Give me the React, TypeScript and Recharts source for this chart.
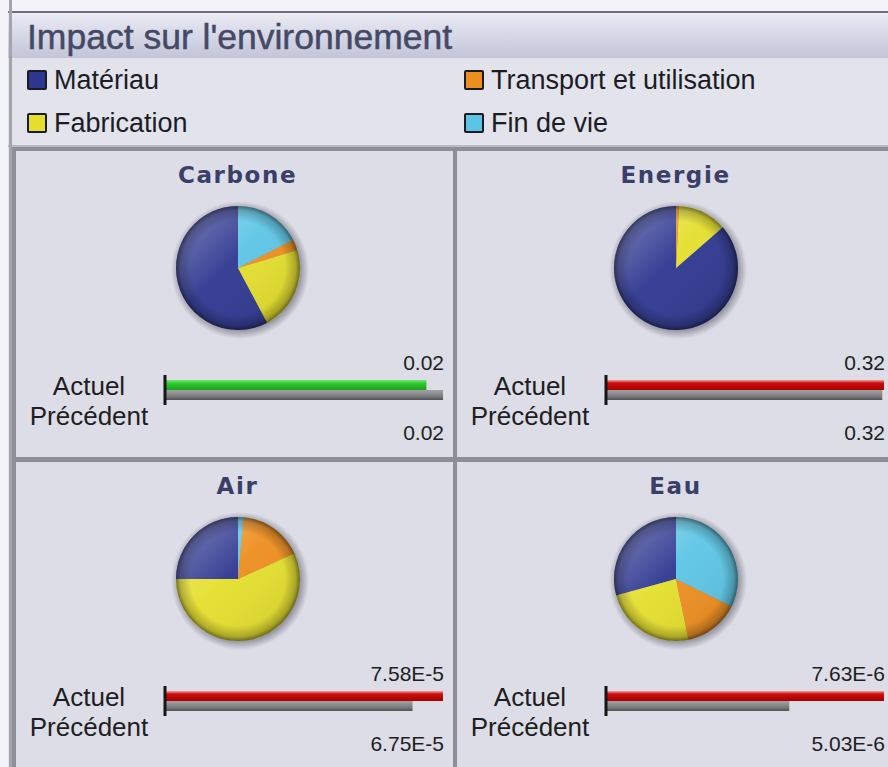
import React from 'react'
import { PieChart, Pie, Cell, BarChart, Bar, XAxis, YAxis, ReferenceLine } from 'recharts'

const categories = ['Matériau', 'Fabrication', 'Transport et utilisation', 'Fin de vie']
const colors = ['#2e3790', '#e4df2c', '#ee8e1e', '#5cc5e5']
const legendOrder = [0, 2, 1, 3]

const panelTitles = ['Carbone', 'Energie', 'Air', 'Eau']
const carboneShares = [57.8, 21.9, 2.8, 17.5]
const energieShares = [86.4, 12.8, 0.8, 0]
const airShares = [25, 56.8, 16.8, 1.4]
const eauShares = [29.3, 24, 14.5, 32.3]
const shares = [carboneShares, energieShares, airShares, eauShares]

const actuelValues = [0.0189, 0.322, 7.58e-5, 7.63e-6]
const precedentValues = [0.0201, 0.32, 6.75e-5, 5.03e-6]
const rowLabels = ['Actuel', 'Précédent']

const fmt = (v: number) =>
  v >= 0.01 ? v.toFixed(2) : v.toExponential(2).toUpperCase().replace('+', '')

const PANEL_W = [437, 431]
const PANEL_H = 306

function Panel({ i }: { i: number }) {
  const w = PANEL_W[i % 2]
  const slices = categories.map((name, k) => ({ name, value: shares[i][k] }))
  const total = slices.reduce((s, d) => s + d.value, 0)
  const cover = [{ name: 'cover', value: total }]
  const act = actuelValues[i]
  const prev = precedentValues[i]
  const max = Math.max(act, prev)
  const better = act <= prev
  const barRow = [{ name: panelTitles[i], actuel: act, precedent: prev }]
  const id = 'p' + i

  return (
    <div style={{ position: 'absolute', left: 0, top: 0, width: w, height: PANEL_H, background: '#dcdde6' }}>
      <div
        style={{
          position: 'absolute', left: 0, width: w, top: 10, textAlign: 'center',
          fontFamily: 'DejaVu Sans', fontWeight: 'bold', fontSize: 23, letterSpacing: 1.6,
          color: '#3a3e68', lineHeight: '28px', paddingLeft: 6, boxSizing: 'border-box',
        }}
      >
        {panelTitles[i]}
      </div>
      <div style={{ position: 'absolute', left: w / 2 + 3 - 80, top: 117 - 80 }}>
        <PieChart width={160} height={160} margin={{ top: 0, right: 0, bottom: 0, left: 0 }}>
          <defs>
            <radialGradient id={id + 'halo'} cx="50%" cy="50%" r="50%">
              <stop offset="0%" stopColor="#5e5e6c" stopOpacity={0.7} />
              <stop offset="86%" stopColor="#5e5e6c" stopOpacity={0.6} />
              <stop offset="100%" stopColor="#5e5e6c" stopOpacity={0} />
            </radialGradient>
            <radialGradient id={id + 'rim'} cx="50%" cy="50%" r="50%">
              <stop offset="0%" stopColor="#000" stopOpacity={0} />
              <stop offset="76%" stopColor="#000" stopOpacity={0} />
              <stop offset="93%" stopColor="#000" stopOpacity={0.22} />
              <stop offset="100%" stopColor="#000" stopOpacity={0.5} />
            </radialGradient>
            <linearGradient id={id + 'shine'} x1="0" y1="0" x2="1" y2="1">
              <stop offset="0%" stopColor="#fff" stopOpacity={0.4} />
              <stop offset="45%" stopColor="#fff" stopOpacity={0.05} />
              <stop offset="100%" stopColor="#000" stopOpacity={0.12} />
            </linearGradient>
          </defs>
          <Pie data={cover} dataKey="value" cx={82} cy={82} outerRadius={69} stroke="none" fill={`url(#${id}halo)`} isAnimationActive={false} />
          <Pie data={slices} dataKey="value" cx={80} cy={80} outerRadius={62} startAngle={90} endAngle={450} stroke="none" isAnimationActive={false}>
            {slices.map((d, k) => (
              <Cell key={d.name} fill={colors[k]} />
            ))}
          </Pie>
          <Pie data={cover} dataKey="value" cx={80} cy={80} outerRadius={62} stroke="none" fill={`url(#${id}shine)`} isAnimationActive={false} />
          <Pie data={cover} dataKey="value" cx={80} cy={80} outerRadius={62} stroke="none" fill={`url(#${id}rim)`} isAnimationActive={false} />
        </PieChart>
      </div>

      {rowLabels.map((t, k) => (
        <div
          key={t}
          style={{
            position: 'absolute', left: 0, width: 146, top: 221 + k * 30, height: 28, lineHeight: '28px',
            textAlign: 'center', fontSize: 26, color: '#1e1e22',
          }}
        >
          {t}
        </div>
      ))}
      {[act, prev].map((v, k) => (
        <div
          key={k}
          style={{
            position: 'absolute', right: w - 428, top: 198 + k * 70, height: 28, lineHeight: '28px',
            textAlign: 'right', fontSize: 21, color: '#1e1e22',
          }}
        >
          {fmt(v)}
        </div>
      ))}

      <div style={{ position: 'absolute', left: 146, top: 224 }}>
        <BarChart
          width={283}
          height={30}
          data={barRow}
          layout="vertical"
          barGap={0}
          margin={{ top: 0, right: 2, bottom: 0, left: 3 }}
        >
          <defs>
            <linearGradient id={id + 'green'} x1="0" y1="0" x2="0" y2="1">
              <stop offset="0%" stopColor="#74e874" />
              <stop offset="35%" stopColor="#2fc92f" />
              <stop offset="100%" stopColor="#1d9f1d" />
            </linearGradient>
            <linearGradient id={id + 'red'} x1="0" y1="0" x2="0" y2="1">
              <stop offset="0%" stopColor="#f4a2a2" />
              <stop offset="30%" stopColor="#cc0f0f" />
              <stop offset="100%" stopColor="#a40000" />
            </linearGradient>
            <linearGradient id={id + 'gray'} x1="0" y1="0" x2="0" y2="1">
              <stop offset="0%" stopColor="#a2a2a4" />
              <stop offset="60%" stopColor="#7e7e80" />
              <stop offset="100%" stopColor="#525254" />
            </linearGradient>
          </defs>
          <XAxis type="number" hide domain={[0, max]} allowDataOverflow />
          <YAxis type="category" dataKey="name" hide />
          <Bar dataKey="actuel" barSize={10} fill={`url(#${id}${better ? 'green' : 'red'})`} isAnimationActive={false} />
          <Bar dataKey="precedent" barSize={10} fill={`url(#${id}gray)`} isAnimationActive={false} />
          <ReferenceLine x={0} stroke="#151515" strokeWidth={3} />
        </BarChart>
      </div>
    </div>
  )
}

export default function App() {
  const lefts = [16, 457]
  const tops = [151, 462]
  return (
    <div
      style={{
        position: 'absolute', left: 0, top: 0, width: 888, height: 767, overflow: 'hidden',
        background: '#e2e3eb', fontFamily: '"Liberation Sans", Arial, sans-serif',
      }}
    >
      <div style={{ position: 'absolute', left: 0, top: 0, width: 888, height: 11, background: '#f3f3f8' }} />
      <div style={{ position: 'absolute', left: 0, top: 11, width: 888, height: 2, background: '#6c6d76' }} />
      <div
        style={{
          position: 'absolute', left: 0, top: 13, width: 888, height: 45,
          background: 'linear-gradient(#ebebf4, #d2d4e4 60%, #c3c5d8)',
        }}
      />
      <div
        style={{
          position: 'absolute', left: 27, top: 15, height: 44, lineHeight: '44px',
          fontSize: 35.5, color: '#454966', whiteSpace: 'nowrap', WebkitTextStroke: '0.5px #454966',
        }}
      >
        Impact sur l'environnement
      </div>

      {legendOrder.map((k, n) => {
        const col = n % 2
        const row = Math.floor(n / 2)
        return (
          <div
            key={categories[k]}
            style={{
              position: 'absolute', left: col ? 464 : 27, top: 59 + row * 43, height: 42,
              display: 'flex', alignItems: 'center', whiteSpace: 'nowrap',
            }}
          >
            <div
              style={{
                width: 16, height: 16, background: colors[k], border: '2px solid #1b1b22',
                borderRadius: 2, marginRight: 7,
              }}
            />
            <span style={{ fontSize: 27, color: '#1c1c26' }}>{categories[k]}</span>
          </div>
        )
      })}

      <div style={{ position: 'absolute', left: 0, top: 145, width: 888, height: 2, background: '#b9bac4' }} />
      <div style={{ position: 'absolute', left: 12, top: 147, width: 876, height: 620, background: '#8d8e98' }} />

      {[0, 1, 2, 3].map((i) => (
        <div
          key={i}
          style={{ position: 'absolute', left: lefts[i % 2], top: tops[Math.floor(i / 2)], width: PANEL_W[i % 2], height: PANEL_H }}
        >
          <Panel i={i} />
        </div>
      ))}

      <div style={{ position: 'absolute', left: 0, top: 0, width: 8, height: 767, background: '#f4f4f8' }} />
      <div style={{ position: 'absolute', left: 9, top: 0, width: 3, height: 767, background: '#a3a4ae' }} />
    </div>
  )
}
